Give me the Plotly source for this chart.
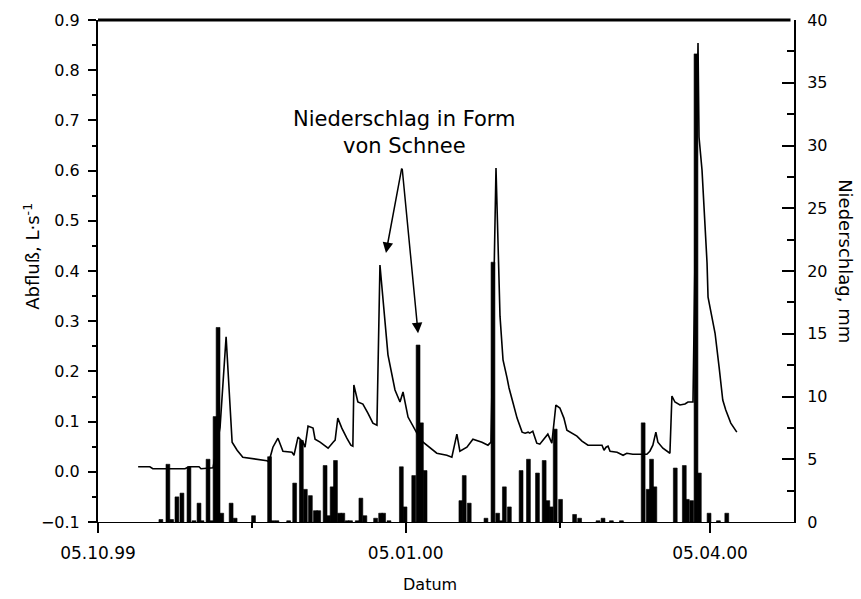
import plotly.graph_objects as go
import pandas as pd

START = pd.Timestamp("1999-10-05")

# Abfluß (L·s-1), Zeitpunkte in Tagen seit 05.10.99
abfluss_tag = [12.0, 15.5, 16.4, 26.0, 27.2, 30.2, 30.8, 34.4, 36.5, 38.3, 40.1, 41.6, 43.3, 45.4,
               50.5, 51.1, 52.3, 53.8, 55.3, 58.0, 58.6, 59.8, 61.3, 61.9, 62.8, 64.3, 64.9, 66.4,
               68.8, 70.3, 70.9, 71.7, 72.9, 74.4, 75.6, 76.2, 76.5, 77.7, 79.2, 80.7, 82.2, 83.4,
               84.3, 86.7, 88.8, 90.3, 91.2, 92.7, 94.8, 96.0, 97.2, 100.1, 101.3, 104.3, 105.8,
               107.3, 108.2, 110.3, 112.1, 114.8, 116.6, 117.5, 119.0, 120.2, 121.1, 122.3, 122.9,
               124.1, 125.3, 126.8, 127.7, 128.6, 129.1, 130.0, 131.2, 132.1, 133.6, 134.5, 135.7,
               136.9, 138.1, 139.3, 140.2, 143.2, 144.7, 146.5, 150.7, 151.3, 151.9, 152.5, 153.1,
               155.2, 157.0, 158.1, 159.9, 164.1, 165.0, 165.9, 166.8, 167.4, 168.9, 171.0, 171.6,
               172.5, 174.0, 175.5, 176.4, 177.9, 179.4, 179.7, 180.6, 182.1, 182.4, 184.5, 185.7,
               186.8, 187.7, 188.3, 189.2, 191.0]
abfluss = [0.010, 0.010, 0.006, 0.006, 0.010, 0.010, 0.006, 0.008, 0.089, 0.269, 0.059, 0.043, 0.029, 0.027,
           0.022, 0.020, 0.049, 0.067, 0.041, 0.039, 0.033, 0.069, 0.059, 0.049, 0.091, 0.087, 0.065, 0.059,
           0.047, 0.059, 0.063, 0.107, 0.087, 0.067, 0.053, 0.051, 0.173, 0.139, 0.135, 0.117, 0.097, 0.093,
           0.412, 0.233, 0.163, 0.139, 0.159, 0.109, 0.083, 0.069, 0.059, 0.043, 0.037, 0.033, 0.029,
           0.075, 0.041, 0.049, 0.065, 0.059, 0.053, 0.059, 0.605, 0.310, 0.223, 0.187, 0.167,
           0.137, 0.107, 0.079, 0.077, 0.079, 0.077, 0.081, 0.057, 0.055, 0.069, 0.075, 0.057,
           0.133, 0.127, 0.107, 0.083, 0.071, 0.061, 0.053, 0.053, 0.043, 0.049, 0.051, 0.041,
           0.039, 0.033, 0.037, 0.035, 0.035, 0.041, 0.053, 0.079, 0.059, 0.047, 0.037, 0.151,
           0.139, 0.133, 0.135, 0.139, 0.139, 0.854, 0.667, 0.601, 0.416, 0.348, 0.276, 0.209,
           0.143, 0.123, 0.113, 0.097, 0.079]

# Niederschlag (mm), Tage seit 05.10.99
niederschlag_tag = [18.8, 20.9, 22.0, 23.6, 25.1, 27.2, 28.7, 30.2, 31.1, 32.9, 34.0, 35.0, 35.9, 37.0,
                    39.8, 41.0, 46.5, 51.3, 52.3, 53.5, 57.0, 58.8, 60.8, 62.0, 63.5, 65.0, 66.0, 67.9,
                    69.0, 70.0, 71.0, 72.2, 73.2, 74.5, 75.5, 77.5, 78.6, 79.8, 83.0, 84.5, 85.4, 87.0,
                    90.7, 91.8, 94.4, 95.7, 96.7, 97.8, 108.5, 109.5, 111.0, 116.0, 118.1, 119.5, 120.5,
                    121.5, 123.0, 126.5, 128.7, 131.4, 133.4, 134.5, 135.5, 136.7, 138.3, 142.5, 144.0,
                    149.5, 151.0, 153.5, 156.5, 163.0, 164.5, 165.5, 166.5, 172.6, 175.3, 176.2, 177.5,
                    178.8, 179.8, 182.7, 185.5, 188.0]
niederschlag = [0.2, 4.6, 0.2, 2.0, 2.3, 4.4, 0.1, 1.5, 0.1, 5.0, 0.1, 8.4, 15.5, 0.7,
                1.5, 0.3, 0.5, 5.2, 0.1, 0.1, 0.1, 3.1, 6.5, 2.6, 2.1, 0.9, 0.9, 4.5,
                0.5, 2.8, 4.9, 0.7, 0.7, 0.1, 0.1, 0.1, 1.9, 0.5, 0.3, 0.7, 0.7, 0.1,
                4.4, 1.2, 3.7, 14.1, 7.9, 4.1, 1.7, 3.7, 1.5, 0.3, 20.7, 0.7, 0.1,
                2.8, 1.2, 4.1, 5.0, 3.9, 4.9, 1.7, 1.2, 7.4, 1.8, 0.6, 0.3,
                0.1, 0.3, 0.1, 0.1, 7.9, 2.6, 5.0, 2.8, 4.3, 4.5, 1.8, 1.7,
                37.3, 3.9, 0.7, 0.1, 0.7]

tick_dates = ["1999-10-05", "2000-01-05", "2000-04-05"]
tick_labels = ["05.10.99", "05.01.00", "05.04.00"]
minor_tick_dates = ["1999-11-20", "2000-02-20"]

FONT = "DejaVu Sans"


def to_dates(days):
    return [START + pd.Timedelta(days=d) for d in days]


fig = go.Figure()
fig.add_trace(go.Bar(
    x=to_dates(niederschlag_tag), y=niederschlag, yaxis="y2",
    width=86400000 * 1.15,
    marker=dict(color="black", line=dict(color="black", width=0.6)),
    hoverinfo="x+y",
))
fig.add_trace(go.Scatter(
    x=to_dates(abfluss_tag), y=abfluss, yaxis="y", mode="lines",
    line=dict(color="black", width=1.6),
))

x_end = START + pd.Timedelta(days=208.1)

fig.update_layout(
    width=861, height=599,
    margin=dict(l=98, r=67, t=20, b=77),
    paper_bgcolor="white", plot_bgcolor="white",
    showlegend=False,
    font=dict(family=FONT, color="black"),
    xaxis=dict(
        type="date", range=[START, x_end],
        tickmode="array", tickvals=tick_dates, ticktext=tick_labels,
        ticks="outside", ticklen=10, tickwidth=1.5, tickcolor="black",
        minor=dict(tickmode="array", tickvals=minor_tick_dates, ticks="outside",
                   ticklen=5, tickwidth=1.5, tickcolor="black"),
        showline=True, linewidth=1.3, linecolor="black",
        showgrid=False, zeroline=False,
        tickfont=dict(family=FONT, size=17),
        ticklabelstandoff=5,
    ),
    yaxis=dict(
        range=[-0.1, 0.9], tick0=-0.1, dtick=0.1, tickformat=".1f",
        ticks="outside", ticklen=8, tickwidth=1.5, tickcolor="black",
        minor=dict(dtick=0.05, tick0=-0.1, ticks="outside", ticklen=4, tickwidth=1.5, tickcolor="black"),
        showline=True, linewidth=2, linecolor="black",
        showgrid=False, zeroline=False,
        tickfont=dict(family=FONT, size=16),
        ticklabelstandoff=5,
    ),
    yaxis2=dict(
        overlaying="y", side="right",
        range=[0, 40], tick0=0, dtick=5,
        ticks="inside", ticklen=12, tickwidth=1.5, tickcolor="black",
        minor=dict(dtick=2.5, ticks="inside", ticklen=7, tickwidth=1.5, tickcolor="black"),
        showline=True, linewidth=2, linecolor="black",
        showgrid=False, zeroline=False,
        tickfont=dict(family=FONT, size=16),
        ticklabelstandoff=8,
    ),
    shapes=[dict(type="line", xref="paper", yref="paper", x0=0, x1=0.995, y0=1, y1=1,
                 line=dict(color="black", width=3))],
    annotations=[
        dict(text="Abfluß, L·s<sup>-1</sup>", xref="paper", yref="paper",
             x=-0.095, y=0.53, xanchor="center", yanchor="middle", textangle=-90,
             showarrow=False, font=dict(family=FONT, size=18)),
        dict(text="Niederschlag, mm", xref="paper", yref="paper",
             x=1.073, y=0.52, xanchor="center", yanchor="middle", textangle=90,
             showarrow=False, font=dict(family=FONT, size=18)),
        dict(text="Datum", xref="paper", yref="paper",
             x=(430 - 98) / 696, y=-0.125, xanchor="center", yanchor="middle",
             showarrow=False, font=dict(family=FONT, size=16)),
        dict(text="Niederschlag in Form<br>von Schnee", xref="x", yref="y",
             x=START + pd.Timedelta(days=91.5), y=0.675, xanchor="center", yanchor="middle",
             showarrow=False, font=dict(family=FONT, size=21)),
        dict(text="", xref="x", yref="y", x=START + pd.Timedelta(days=86.1), y=0.436,
             ax=16, ay=-86, showarrow=True, arrowhead=2, arrowsize=1.4, arrowwidth=1.5,
             arrowcolor="black"),
        dict(text="", xref="x", yref="y", x=START + pd.Timedelta(days=95.7), y=0.276,
             ax=-16, ay=-166, showarrow=True, arrowhead=2, arrowsize=1.4, arrowwidth=1.5,
             arrowcolor="black"),
    ],
)

fig.write_html("out.html")
